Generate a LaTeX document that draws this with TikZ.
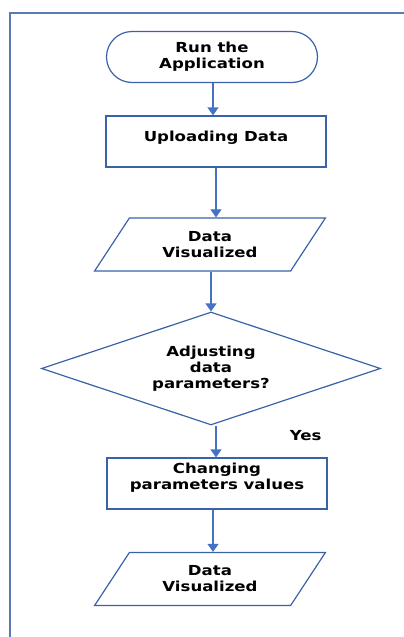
\documentclass[tikz,border=0pt]{standalone}
\usepackage{fontspec}
\setmainfont{DejaVu Sans}[FakeStretch=1.2]
\usetikzlibrary{shapes.geometric, arrows.meta}

\definecolor{frameblue}{HTML}{5B7BB0}
\definecolor{lineblue}{HTML}{4472C4}
\definecolor{edgeblue}{HTML}{3A62A7}

\tikzset{
  flow/.style={draw=edgeblue, line width=1.2pt, font=\bfseries\fontsize{13.8}{16}\selectfont,
    align=center, inner sep=0pt},
  terminal/.style={flow, rectangle, rounded corners=25.5pt, minimum width=211pt, minimum height=51pt},
  process/.style={flow, rectangle, minimum width=220pt, minimum height=51pt},
  data/.style={flow, trapezium, trapezium left angle=52, trapezium right angle=128,
    trapezium stretches=true, minimum width=231pt, minimum height=53pt},
  decision/.style={flow, diamond, aspect=3, minimum width=339pt, minimum height=113pt},
  arrow/.style={draw=lineblue, line width=1.2pt, -{Triangle[width=11pt,length=8pt]}}
}

\begin{document}
\begin{tikzpicture}[x=1pt, y=-1pt]
    \useasboundingbox (0,0) rectangle (404,637);
    % frame
    \draw[frameblue, line width=2pt] (10,637) -- (10,13) -- (404,13);
    \node[terminal] (run) at (212,57) {Run the\\Application};
    \node[process] (upload) at (216,141.5) {Uploading Data\\[-6pt]\mbox{}};
    \node[data] (vis1) at (210,244.5) {Data\\Visualized};
    \node[decision] (adjust) at (211,368.5) {Adjusting\\data\\parameters?};
    \node[process] (change) at (217,483.5) {Changing\\parameters values\\[-2pt]\mbox{}};
    \node[data] (vis2) at (210,579) {Data\\Visualized};
    % vertical lines
    \draw[arrow] (run.south -| 213,0) -- (upload.north -| 213,0);
    \draw[arrow] (upload.south -| 216,0) -- (vis1.north -| 216,0);
    \draw[arrow] (vis1.south -| 211,0) -- (adjust.north);
    \draw[arrow] (adjust.south -| 216,0) -- node[pos=0.3, right=70pt, font=\bfseries\fontsize{13.8}{14}\selectfont] {Yes} (change.north -| 216,0);
    \draw[arrow] (change.south -| 213,0) -- (vis2.north -| 213,0);
  \end{tikzpicture}
\end{document}
